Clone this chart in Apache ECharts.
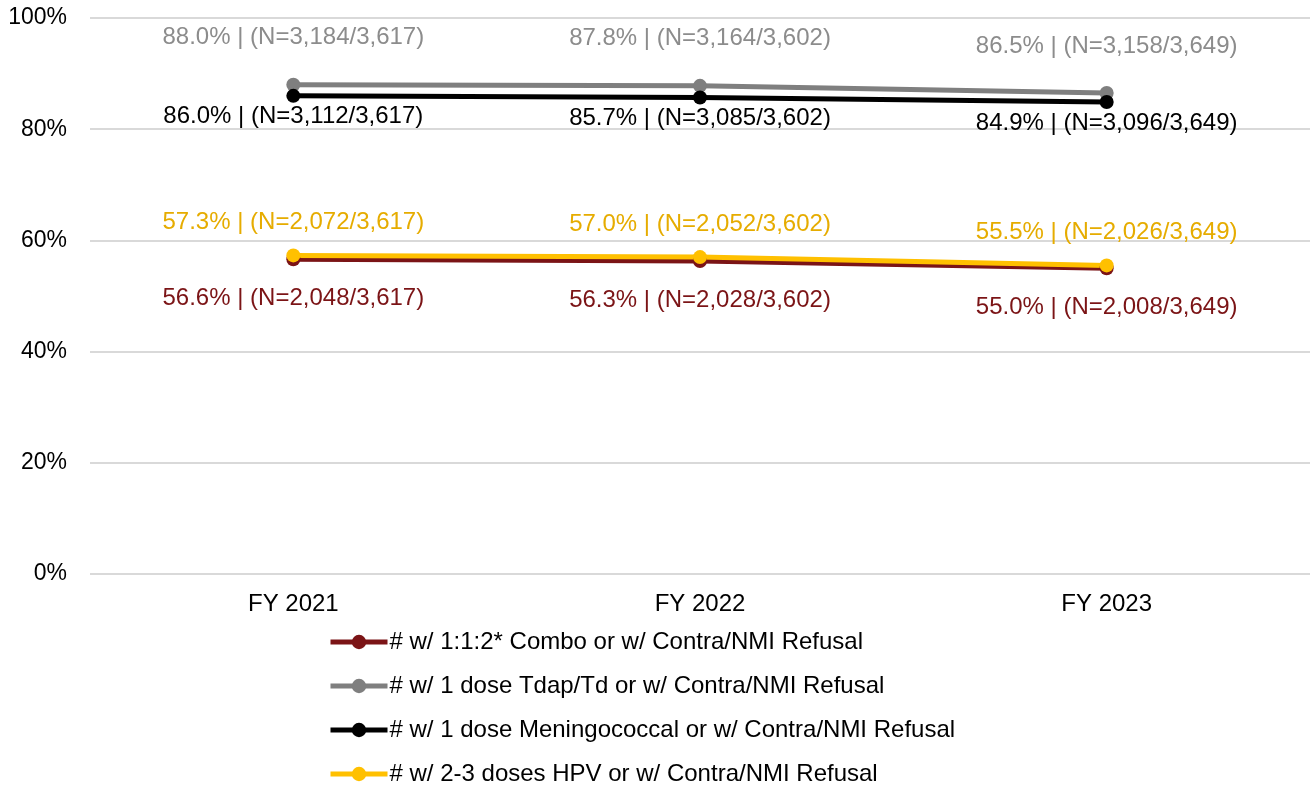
<!DOCTYPE html>
<html>
<head>
<meta charset="utf-8">
<script src="https://cdn.jsdelivr.net/npm/echarts@6/dist/echarts.min.js"></script>
<style>
  html, body { margin: 0; padding: 0; background: #fff; }
  #main { width: 1312px; height: 790px; }
</style>
</head>
<body>
<div id="main"></div>
<script>
// data
const categories = ['FY 2021', 'FY 2022', 'FY 2023']
const denominators = [3617, 3602, 3649]

const comboPct = [56.6, 56.3, 55.0]
const comboN = [2048, 2028, 2008]
const tdapPct = [88.0, 87.8, 86.5]
const tdapN = [3184, 3164, 3158]
const menPct = [86.0, 85.7, 84.9]
const menN = [3112, 3085, 3096]
const hpvPct = [57.3, 57.0, 55.5]
const hpvN = [2072, 2052, 2026]

const yTicks = [0, 20, 40, 60, 80, 100]

const FONT = '"Liberation Sans", Arial, sans-serif'

function fmtNum(n) {
  return n.toLocaleString('en-US')
}

function makeSeries(name, pct, nums, lineColor, labelColor, dy) {
  return {
    name: name,
    type: 'line',
    data: pct,
    symbol: 'circle',
    symbolSize: 14,
    lineStyle: { width: 5, color: lineColor },
    itemStyle: { color: lineColor },
    label: {
      show: true,
      position: 'inside',
      offset: [0, dy],
      color: labelColor,
      fontFamily: FONT,
      fontSize: 24,
      formatter: function(p) {
        const i = p.dataIndex
        return p.value.toFixed(1) + '% | (N=' + fmtNum(nums[i]) + '/' + fmtNum(denominators[i]) + ')'
      }
    },
    emphasis: { disabled: true },
    animation: false
  }
}

const chart = echarts.init(document.getElementById('main'))
chart.setOption({
  textStyle: { fontFamily: FONT },
  grid: {
    top: 18,
    bottom: 216,
    left: 90,
    right: 2,
    containLabel: false
  },
  legend: {
    orient: 'vertical',
    left: 328,
    top: 630,
    padding: 0,
    itemGap: 20,
    itemWidth: 57,
    itemHeight: 18,
    lineStyle: { width: 5 },
    textStyle: { fontSize: 24, color: '#000', fontFamily: FONT, padding: [0, 0, 0, -3] },
    data: [
      '# w/ 1:1:2* Combo or w/ Contra/NMI Refusal',
      '# w/ 1 dose Tdap/Td or w/ Contra/NMI Refusal',
      '# w/ 1 dose Meningococcal or w/ Contra/NMI Refusal',
      '# w/ 2-3 doses HPV or w/ Contra/NMI Refusal'
    ]
  },
  xAxis: {
    type: 'category',
    data: categories,
    boundaryGap: true,
    axisLine: { show: false },
    axisTick: { show: false },
    axisLabel: { color: '#000', fontSize: 24, margin: 18, fontFamily: FONT }
  },
  yAxis: {
    type: 'value',
    min: yTicks[0],
    max: yTicks[yTicks.length - 1],
    interval: 20,
    axisLine: { show: false },
    axisTick: { show: false },
    splitLine: { lineStyle: { color: '#d9d9d9', width: 2 } },
    axisLabel: {
      color: '#000',
      fontSize: 23,
      margin: 23,
      fontFamily: FONT,
      formatter: '{value}%'
    }
  },
  series: [
    makeSeries('# w/ 1:1:2* Combo or w/ Contra/NMI Refusal', comboPct, comboN, '#7b1416', '#7b1416', 39),
    makeSeries('# w/ 1 dose Tdap/Td or w/ Contra/NMI Refusal', tdapPct, tdapN, '#7f7f7f', '#8c8c8c', -47),
    makeSeries('# w/ 1 dose Meningococcal or w/ Contra/NMI Refusal', menPct, menN, '#000000', '#000000', 21),
    makeSeries('# w/ 2-3 doses HPV or w/ Contra/NMI Refusal', hpvPct, hpvN, '#ffc000', '#e6ac00', -33)
  ]
})
</script>
</body>
</html>
